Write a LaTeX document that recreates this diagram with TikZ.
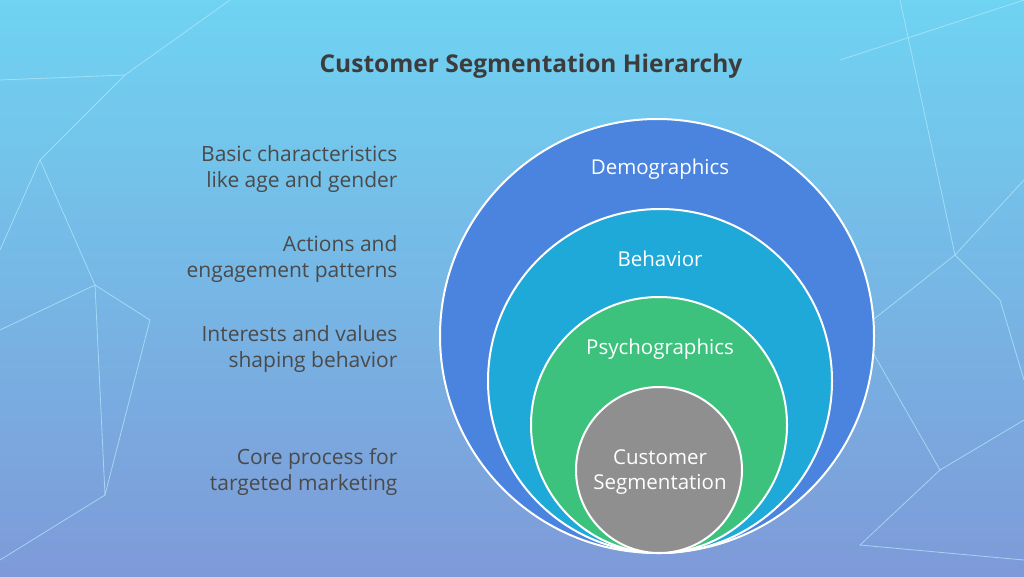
\documentclass[tikz,border=0pt]{standalone}
\usepackage{fontspec}
\setmainfont{Open Sans}
\definecolor{bgtop}{HTML}{6FD3F2}
\definecolor{bgbot}{HTML}{7E9AD8}
\definecolor{demo}{HTML}{4A84DF}
\definecolor{behav}{HTML}{1FA9D9}
\definecolor{psych}{HTML}{3DC27E}
\definecolor{core}{HTML}{8F8F8F}
\definecolor{ink}{HTML}{3C3C3C}
\definecolor{note}{HTML}{4A4A4A}
\begin{document}
\begin{tikzpicture}
	[x=1pt, y=-1pt,
	ring/.style = {draw=white, line width=2pt},
	label/.style = {text=white, font=\fontsize{20.5}{25}\selectfont},
	desc/.style = {anchor=east, align=right, text=note, font=\fontsize{21}{25.5}\selectfont},
	web/.style = {draw=cyan!30!white, line width=0.8pt, opacity=0.75}]
\shade[top color=bgtop, bottom color=bgbot] (0,0) rectangle (1024,576);
\useasboundingbox (0,0) rectangle (1024,576);
% network lines
\draw[web] (0,80) -- (125,75) -- (230,0);
\draw[web] (125,75) -- (40,160) -- (0,250);
\draw[web] (40,160) -- (95,285) -- (0,330);
\draw[web] (95,285) -- (105,495) -- (0,560);
\draw[web] (105,495) -- (150,320) -- (95,285);
\draw[web] (840,60) -- (1024,0);
\draw[web] (955,255) -- (1024,180);
\draw[web] (955,255) -- (860,330) -- (940,470) -- (1024,420);
\draw[web] (955,255) -- (1000,300) -- (1024,380);
\draw[web] (940,470) -- (860,545) -- (1024,560);
\draw[web] (955,255) -- (900,0);
% nested rings
\node[ring, circle, fill=demo, minimum size=434pt] (dem) at (657,336) {};
\node[ring, circle, fill=behav, minimum size=344pt] (beh) at (660,381) {};
\node[ring, circle, fill=psych, minimum size=256pt] (psy) at (659,425) {};
\node[ring, circle, fill=core, minimum size=166pt] (cus) at (659,470) {};
\node[label] (tdem) at (660,169) {Demographics};
\node[label] (tbeh) at (660,259) {Behavior};
\node[label] (tpsy) at (660,349) {Psychographics};
\node[label, align=center] (tcus) at (660,472) {Customer\\Segmentation};
% descriptions
\node[desc] (ddem) at (401,169) {Basic characteristics\\like age and gender};
\node[desc] (dbeh) at (401,259) {Actions and\\engagement patterns};
\node[desc] (dpsy) at (401,349) {Interests and values\\shaping behavior};
\node[desc] (dcus) at (401,472) {Core process for\\targeted marketing};
\node[text=ink, font=\bfseries\fontsize{24.5}{28}\selectfont] (title) at (531,66) {Customer Segmentation Hierarchy};
\end{tikzpicture}
\end{document}
